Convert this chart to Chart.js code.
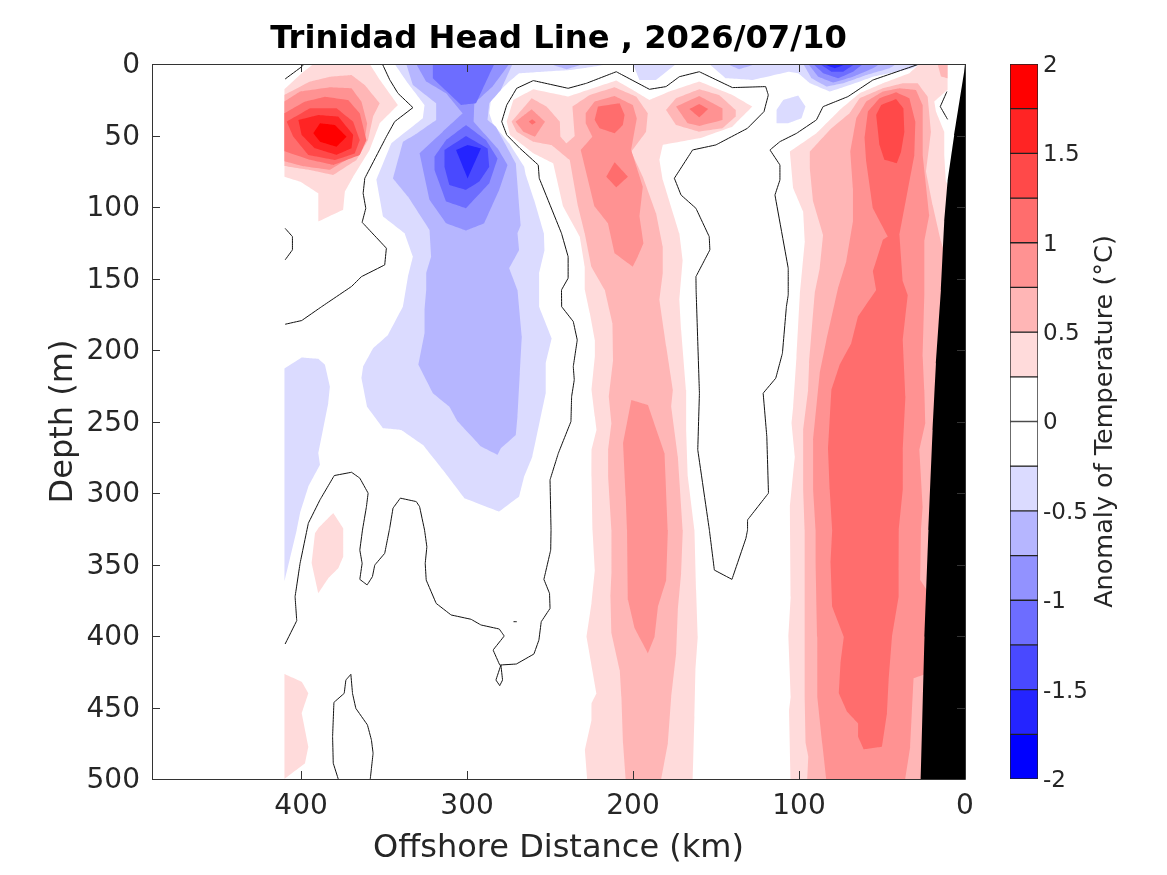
<!DOCTYPE html>
<html><head><meta charset="utf-8">
<script src="https://cdn.jsdelivr.net/npm/chart.js@4"></script>
<style>html,body{margin:0;padding:0;background:#fff;overflow:hidden}canvas{position:absolute;left:0;top:0}</style>
</head><body>
<canvas id="main" width="1167" height="875"></canvas>
<canvas id="bar" width="1167" height="875"></canvas>
<script>
// ---- data: [offshore km, depth m] outlines of the filled contour bands ----
const titleText = "Trinidad Head Line , 2026/07/10";
const levelColors = {"-1.5":"#2424FF","-1.25":"#4949FF","-1":"#6D6DFF","-0.75":"#9292FF","-0.5":"#B6B6FF","-0.25":"#DBDBFF",
  "0.25":"#FFDBDB","0.5":"#FFB6B6","0.75":"#FF9292","1":"#FF6D6D","1.25":"#FF4949","1.5":"#FF2424","1.75":"#FF0000"};

const cold25 = [
 [[343.6,0],[335.6,13.5],[325.6,28.7],[326.6,38],[345.6,55.5],[354.6,81],[350.6,106.7],[337.6,118.4],[332.6,134.7],[335.6,148.7],[338.6,169.6],[347.6,189.5],[356.6,198.8],[362.6,211.6],[363.6,219.7],[360.2,239.6],[350.6,254.7],[339.6,255.9],[326.6,266.3],[314.6,283.8],[301.6,303.6],[280.6,313],[268.6,302.5],[265.6,288.5],[260.6,274.5],[252.6,230.2],[252.6,209.3],[249,191.8],[256.6,169.7],[256.6,146.3],[253.3,130],[253.7,118.4],[259.6,95],[264.6,77.6],[265.6,71.8],[274.6,55.5],[284.6,41.5],[286.6,34.5],[285.6,25.2],[274.6,12.3],[268.6,6.5],[254.7,5.4],[237.7,4.2],[230,3],[214,0]],
 [[200,0],[196.1,11.2],[186.1,11.2],[174.1,0]],
 [[154.1,0],[144.1,10],[128.1,11.2],[106.1,5.4],[100.4,6.5],[93.4,13.5],[81.4,19.3],[69.4,14.7],[55.4,8.9],[31.4,3],[27.4,0]],
 [[113.5,32.1],[109.5,25.2],[100.5,22.1],[96.1,29.8],[98.5,38],[106.5,41.5],[113.5,41.5]],
 [[410,213],[399.6,205.3],[389.6,206.2],[385.6,210.4],[382.6,225.6],[383.6,237.2],[389.6,272.2],[388.6,280.3],[395.6,295.5],[400.6,314],[402.6,325.9],[410,362]]
];
const cold50 = [
 [[336.6,0],[332.6,14.7],[318.6,27.5],[318.6,39.1],[331.6,49.6],[338.6,54.3],[344.6,80],[335.6,92.7],[322.6,116],[321.6,134.7],[324.6,146.3],[324.6,158],[325.6,172],[325.6,188.3],[329.3,210.4],[320.6,230.2],[310.6,239.6],[305.6,250],[291.6,267.5],[281.6,273.3],[279.6,268.7],[270.6,259.4],[269.6,246.5],[268.2,216.3],[267,190.6],[269.6,158],[274.6,142.8],[268.6,130],[269.6,118.4],[267.6,112.5],[270.6,69.4],[282.6,43.8],[287.6,39.1],[286.6,27.5],[279.6,18.2],[272.6,0]],
 [[250,0],[240,3.7],[230,0]],
 [[143.1,0],[136.1,3.7],[126.1,0]],
 [[97.4,0],[92.4,10],[83.4,15.8],[73.4,13.5],[59.4,7.7],[45.4,3],[41.4,0]]
];
const cold75 = [
 [[330.6,0],[324.6,12.3],[312.6,20.5],[302.6,34.5],[314.6,47.3],[328.6,62.4],[322.6,95],[312.6,111.4],[300.6,116.5],[289.6,111.4],[280.6,88],[275.6,70.6],[281.6,59],[296,40.3],[295.6,27.5],[284.6,15.8],[274.6,0]],
 [[94.4,0],[88.4,8.9],[79.4,13],[67.4,8.9],[55.4,3],[51.4,0]]
];
const cold100 = [
 [[320.6,0],[320.6,10],[303.6,28.7],[294.6,27.5],[283.6,0]],
 [[319.6,64.8],[312.6,53.1],[300.6,42.6],[288.6,53.1],[281.6,66],[286.6,83.4],[300.6,100.9],[312.6,96.2],[319.6,74.1]],
 [[91.4,0],[85.4,6.5],[76.4,10],[67.4,5.4],[61.4,0]]
];
const cold125 = [
 [[313.6,60.1],[300.6,50.3],[287.6,59],[286.6,71.8],[292.6,82.2],[300.6,88],[310.6,84.6],[313.6,71.8]],
 [[87.4,0],[80.4,5.4],[73.4,5.4],[66.4,0]]
];
const cold150 = [
 [[306.6,60.1],[299.6,56.6],[291.6,59],[299.6,80]],
 [[85.4,0],[78.4,3],[71.4,0]]
];
const warm25 = [
 [[410,17.7],[399.6,6.5],[392.6,0],[358.6,0],[352.6,11],[341.6,28.7],[352.6,41.5],[358.6,60],[368.6,78.8],[373.6,89.2],[374.6,102],[389.6,110.2],[389.6,90.4],[400.6,82.2],[410,78.8]],
 [[380.6,314],[374.6,324.6],[374.6,332.9],[374.6,344.5],[377.6,352.7],[383.6,359.7],[389.6,370.2],[393.6,349.2],[391.6,328.2],[389.6,324.6]],
 [[410,426.6],[399.6,432],[395.6,440],[399.6,454],[395.6,477.4],[397.6,489],[410,500]],
 [[276.1,40.3],[272.1,25.2],[260.1,17.7],[239.1,22.8],[224.1,17],[210.1,11.6],[200.1,18.2],[190.1,25.2],[178.1,19.3],[160.1,12.3],[140.1,21.7],[128.1,29.8],[140.1,43.8],[160.1,52],[182.1,56.6],[184.1,67.1],[182.1,81],[172.1,118.4],[170.1,137],[172.1,165],[171,186],[168,228],[168,255.9],[167,288.5],[163,325.8],[162,367.8],[161,400.5],[162.4,423.8],[163,456.4],[164,500],[227.6,500],[229,479.7],[225,458.7],[225,447],[222,440],[228,400.5],[225,377],[223,353.9],[224.4,325.9],[225,288.5],[225,269.8],[222,255.9],[223,246.5],[225,227.9],[223,204.6],[223,193],[226,174.3],[229,158],[229.1,141.7],[232.1,120.7],[242.1,99.7],[248.1,69.4],[260.1,62.4],[274.1,49.6]],
 [[10.5,0],[27.5,0],[33.5,6.5],[49.5,13.5],[63.5,20.5],[75.5,32.2],[89.5,48.5],[105.5,61.3],[103.5,86.9],[97.5,103.2],[96.5,124],[99.5,161],[101.5,204.6],[103.5,239.6],[104.5,251.2],[102.5,274.5],[105.5,309.5],[105,372.5],[106.4,400.5],[105,442.4],[106,451.7],[105,500],[15,500],[8,90],[11.5,82],[12.5,63.6],[12.5,47.3],[17.5,33.3],[18.5,26.3],[10.5,18]]
];
const warm50 = [
 [[410,21.7],[394.6,12.3],[382.6,8.9],[369.6,7.7],[361.6,14.7],[352.6,27.5],[356.6,36.8],[359.6,53.1],[366.6,67.1],[380.6,77.6],[394.6,74.1],[410,71.3]],
 [[273.1,40.3],[261.1,24],[252.1,29.8],[244.1,40.3],[243.7,50.8],[240.1,55.5],[235.1,50.3],[236.5,29.8],[226.1,21.7],[211.1,16.3],[198.1,22.8],[191.1,34.5],[192.1,47.3],[201.1,61.3],[194.1,78.8],[186.1,104.4],[182.1,127.7],[182.1,146.3],[184.1,165],[180,197.6],[176,227.9],[177,239.6],[173,274.5],[170,325.8],[171,356],[173,381.8],[174,412],[177,442.4],[179,475],[183,500],[204.4,500],[206,475],[207,442.4],[208,423.8],[213,398],[213.6,372.5],[213,356],[213,325.9],[215,288.5],[215,269.8],[213,251],[214.6,232.6],[212,207],[212.4,181.3],[217,158],[225.1,141.7],[229.1,118.4],[233.1,99.7],[238.1,67.1],[249.1,56.6],[260.1,54.3],[270.1,47.3]],
 [[180.1,32.2],[174.1,24],[160.1,17.7],[148.1,21.7],[138.1,32.2],[138.1,36.8],[146.1,45],[160.1,47.3],[174.1,42.6]],
 [[16.5,0],[14.5,8.8],[10.5,10],[10.5,0]],
 [[93.5,61.3],[81.5,46.1],[69.5,34.5],[63.5,24],[49.5,17],[37.5,13.5],[28.5,13.5],[22.5,22.8],[20.5,47.3],[23.5,75.3],[19.5,98.6],[14.5,124],[5,160],[15,500],[95,500],[94.4,484.3],[96,475],[96.6,442.4],[96.6,372.5],[96.6,325.9],[97.5,297.8],[97.5,255.9],[94.5,228],[93.9,209.3],[90.5,160],[87.5,142.8],[85.5,119.5],[91.5,96.2],[93.5,72.9]]
];
const warm75 = [
 [[410,26.3],[400.6,19.3],[382.6,16.3],[369.6,17],[363.6,26.3],[360.2,41.5],[361.6,53.1],[369.6,64.8],[382.6,74],[398.6,71.5],[410,68]],
 [[270.7,40.3],[261.1,31.7],[253.1,40.3],[259.1,50.8],[266.1,47.3]],
 [[228.5,34.5],[223.1,26.3],[211.1,22.4],[200.1,28.7],[197.7,38],[201.1,60.1],[194.1,85.7],[196.1,106.7],[193.7,125.4],[197.1,134.7],[200.1,141.7],[211.1,132.3],[215.1,111.4],[223.1,99.7],[231.5,60.1],[224.5,50.8],[228.5,41.5]],
 [[201,234.9],[191,238.4],[181,272.2],[179,325.8],[180,360.9],[185,379.5],[187,400.5],[191,412.1],[199,394.6],[203,374.8],[203.6,325.9],[204.4,302.5],[206,265.2]],
 [[174.1,29.8],[160.1,22.4],[146.1,31],[146.1,39.1],[160.1,43.3],[167.1,41.5]],
 [[69.1,61.3],[65.5,38],[59.5,26.3],[49.5,19.3],[39.5,17],[29.5,18.2],[25.5,28.7],[25.5,63.6],[21.5,105.5],[24.5,124],[24.5,161.5],[25.5,204.6],[24.5,228],[23.9,251],[27.5,269.8],[25.5,309.5],[26.5,325.8],[27,360.9],[23,368],[20,380],[20,425],[31,429.6],[33,477.4],[36,500],[83.6,500],[86,475],[89,442.4],[89,400.5],[90,349],[90,325.9],[91.5,297.8],[91.5,262.9],[87.5,216],[83.5,193],[76.5,156.8],[71.5,138],[67.5,110],[67.5,87]]
];
const warm100 = [
 [[410,34.5],[397.6,26.3],[385.6,22.9],[371.6,25.2],[364.6,34.5],[360.6,53.1],[364.6,63.6],[380.6,70.6],[394.6,67],[410,61]],
 [[262.7,40.3],[260.7,38.7],[258.5,40.8],[260.7,42.4]],
 [[223.1,39.1],[221.1,29.8],[208.1,27.5],[205.1,35.6],[206.1,42.6],[211.1,48.5],[220.1,45]],
 [[216.1,78.8],[211.1,68.7],[203.1,78.8],[210.1,86.2]],
 [[166.1,31.5],[160.1,28],[154.7,31.5],[160.1,37.3]],
 [[60.5,52],[58.5,33.3],[51.5,24],[41.5,19.8],[33.5,24],[29.9,40.3],[30.5,63.6],[39.5,119.5],[37.5,152],[34.5,161.5],[37.5,193],[35.9,232.6],[37.5,269.8],[37.5,297.8],[39.9,325.8],[40,353.9],[40,372.5],[44,400.5],[46,430.8],[47,454],[50,477.4],[61,479.2],[64.4,470.4],[64.4,461],[71,452.9],[76,440],[75,419],[73,400.5],[80,379.5],[81,349],[80,325.9],[81.5,297.8],[82.5,269.8],[80.5,228],[75.5,210.4],[68.5,195.3],[64.5,176.6],[53.5,158],[55.5,145],[49.5,123],[46.5,120.7],[55.5,100.9],[59.5,68.3]]
];
const warm125 = [
 [[408.6,40.3],[394.6,31],[378.6,31],[368.6,40.3],[364.6,53.1],[367.6,62.5],[379.6,67.1],[395.6,63.6],[404.6,50.8]],
 [[53.5,35.6],[50.5,28.7],[41.5,24.5],[37.1,31],[36.5,47.3],[38.5,61.3],[41.1,69.4],[48.5,67],[51.5,56.6]]
];
const warm150 = [
 [[401.6,39.2],[389.6,35.7],[377.6,36.8],[368.6,49.6],[369.6,59],[378.6,63.6],[391.6,59],[399.6,49.6]]
];
const warm175 = [
 [[392.6,48.5],[388.6,41.5],[379.6,42.7],[372.6,50.8],[378.6,57.8],[388.6,54.3]]
];
const shelf = [[0,0],[0.5,5.35],[6.5,49.6],[10.5,82],[12.5,110],[14.5,158],[17.5,209.3],[19.5,256],[22,325.9],[24.4,400.5],[26.6,500],[0,500]];

const zeroLines = [
 [[409.6,10.5],[399.6,1.9],[398.2,0]],
 [[351,0],[346.6,11],[341.6,20.5],[332.6,30.5],[343.6,40.3],[348.6,50.8],[361.6,79.9],[362.6,90.4],[361,100.9],[363.2,110.7],[348.6,128.8],[349.6,140.5],[363.6,148.7],[369.6,155.6],[387.6,169.7],[399.6,179.4],[409.6,182]],
 [[409.6,114.9],[405.2,120.7],[405.2,130],[409.6,137]],
 [[27.5,0],[55.5,11.2],[70.5,22.8],[85.5,29.8],[89.5,39.1],[101.5,48.5],[111.5,54.3],[117.5,60.1],[111.5,70.6],[111.5,81.1],[114.5,91.6],[106.5,142.8],[106.5,161.5],[107.6,169.7],[110,202.3],[114,219.7],[121.6,230.2],[119.4,260.5],[118.4,300.1],[131,318.8],[131,325.8],[132,331.7],[140.4,360.4],[151,353.9],[154,325.9],[161,269.8],[160,230.2],[162,158],[162.1,148.7],[153.7,130],[154.1,120.7],[162.1,100.9],[171.1,91.6],[175.1,79.9],[164.1,60.1],[150.1,56.6],[131.1,45],[121.1,33.3],[118.5,21.7],[120.1,15.8],[140.1,16.5],[160.1,5.4],[172.1,8.9],[180.1,15.8],[190.1,17.7],[210.1,5.4],[228.1,13.5],[239.1,17],[260.1,11.6],[270.1,17],[276.1,28.7],[279.1,40.3],[276.1,49.6],[268.1,59],[257.1,70.6],[256.5,79.9],[243.1,118.4],[239.1,134.7],[239.1,149.8],[243.1,158],[243,169.7],[236,180.1],[233.6,193],[236,211.6],[235.4,220.9],[237,232.6],[237.4,250],[245,272.2],[250,290.8],[249.4,325.8],[249.6,339.9],[253.7,360.4],[250.3,370.2],[250,380.7],[255.3,390],[256.7,402.8],[259.7,412.6],[270.3,419.6],[280.3,420.3],[284.3,409.8],[277.6,400],[280.6,395.1],[291.6,392.3],[297.6,388.3],[309.6,385.3],[318.6,377.2],[324.6,360.9],[325.2,349.2],[324.2,337.6],[325.6,325.9],[328.6,309.5],[330.6,306],[340.2,303.6],[344.6,310.6],[346.6,324.6],[349.6,342.2],[355.6,350.4],[357,358.5],[360.2,364.3],[364.6,360.4],[363.2,349.2],[364.6,339.9],[363,325.9],[360.6,309.5],[359.6,300.1],[364.6,289.6],[369.6,285.5],[380,287.8],[388.6,304.8],[395.6,321.1],[400.6,349.2],[403.6,372.5],[402.6,389.3],[409.6,405.6]],
 [[279.6,420.3],[282.6,430.8],[280.3,434.7],[278.6,430.8],[279.6,420.3]],
 [[272,390],[270,390]],
 [[377.6,500],[380.6,489],[381,470.4],[380.2,446.4],[374,440.1],[373,430.8],[370,426.8],[369,440.1],[367,450.6],[360,462.2],[357.6,472.7],[356.6,482],[358.3,500]],
 [[10.9,19.3],[14.9,29.8],[10.5,38.7]]
];

const xTickStep = 100;
const yTickStep = 50;
const barLevels = [2,1.75,1.5,1.25,1,0.75,0.5,0.25,0,-0.25,-0.5,-0.75,-1,-1.25,-1.5,-1.75,-2];
const barColors = ["#FF0000","#FF2424","#FF4949","#FF6D6D","#FF9292","#FFB6B6","#FFDBDB","#FFFFFF","#FFFFFF","#DBDBFF","#B6B6FF","#9292FF","#6D6DFF","#4949FF","#2424FF","#0000FF"];
const barTitle = "Anomaly of Temperature (°C)";

// ---- chart ----
const FONT = "'DejaVu Sans'";
const INK = "#262626";
const toPts = a => a.map(p => ({x:p[0], y:p[1]}));
// the tiny tension keeps Chart.js off its x-sorted fast path, which would distort closed outlines
const areaSet = (poly, color) => ({data:toPts(poly.concat([poly[0]])), showLine:true, pointRadius:0, borderWidth:0, borderColor:color, backgroundColor:color, fill:'shape', tension:0.0001});
const lineSet = line => ({data:toPts(line), showLine:true, pointRadius:0, borderWidth:1, borderColor:"#111", fill:false, tension:0.0001});
const bands = [
 [cold25,"-0.25"],[cold50,"-0.5"],[cold75,"-0.75"],[cold100,"-1"],[cold125,"-1.25"],[cold150,"-1.5"],
 [warm25,"0.25"],[warm50,"0.5"],[warm75,"0.75"],[warm100,"1"],[warm125,"1.25"],[warm150,"1.5"],[warm175,"1.75"]
];
const datasets = [];
bands.forEach(([polys,k]) => polys.forEach(p => datasets.push(areaSet(p, levelColors[k]))));
zeroLines.forEach(l => datasets.push(lineSet(l)));
datasets.push(areaSet(shelf, "#000000"));
datasets.reverse(); // Chart.js paints the last dataset first

const frame = {
  id:'frame',
  afterDraw(c){
    const {ctx, chartArea:a, scales} = c;
    ctx.save();
    ctx.strokeStyle = "#333"; ctx.lineWidth = 1;
    ctx.beginPath();
    const L = 8;
    scales.x.ticks.forEach(t => { const p = Math.round(scales.x.getPixelForValue(t.value))+0.5;
      ctx.moveTo(p,a.bottom); ctx.lineTo(p,a.bottom-L); ctx.moveTo(p,a.top); ctx.lineTo(p,a.top+L); });
    scales.y.ticks.forEach(t => { const p = Math.round(scales.y.getPixelForValue(t.value))+0.5;
      ctx.moveTo(a.left,p); ctx.lineTo(a.left+L,p); ctx.moveTo(a.right,p); ctx.lineTo(a.right-L,p); });
    ctx.rect(a.left+0.5,a.top+0.5,a.right-a.left,a.bottom-a.top);
    ctx.stroke();
    ctx.restore();
  }
};
new Chart(document.getElementById('main'), {
  type:'scatter',
  data:{datasets},
  plugins:[frame],
  options:{
    responsive:false, animation:false, events:[],
    layout:{padding:{top:20,left:44,right:202,bottom:7}},
    plugins:{legend:{display:false},tooltip:{enabled:false},
      title:{display:true,text:titleText,fullSize:false,color:"#000",font:{family:FONT,size:32.2,weight:'bold',lineHeight:1.2},padding:{top:0,bottom:5.36}}},
    scales:{
      x:{type:'linear',reverse:true,min:0,max:489.8,afterFit:s=>{s.height=89},
        grid:{display:false,drawTicks:false},border:{display:false},
        ticks:{stepSize:xTickStep,includeBounds:false,maxRotation:0,autoSkip:false,color:INK,padding:11,font:{family:FONT,size:28},callback:v=>String(v)},
        title:{display:true,text:"Offshore Distance (km)",color:INK,padding:0,font:{family:FONT,size:32}}},
      y:{type:'linear',reverse:true,min:0,max:500,afterFit:s=>{s.width=108},
        grid:{display:false,drawTicks:false},border:{display:false},
        ticks:{stepSize:yTickStep,autoSkip:false,color:INK,padding:12,labelOffset:2,font:{family:FONT,size:28},callback:v=>String(v)},
        title:{display:true,text:"Depth (m)",color:INK,padding:0,font:{family:FONT,size:32}}}
    }
  }
});

const barLabel = {
  id:'barLabel',
  afterDraw(c){
    const ctx = c.ctx;
    ctx.save();
    ctx.translate(1105, (c.chartArea.top+c.chartArea.bottom)/2);
    ctx.rotate(-Math.PI/2);
    ctx.fillStyle = INK;
    ctx.font = "25.5px "+FONT;
    ctx.textAlign = "center";
    ctx.textBaseline = "middle";
    ctx.fillText(barTitle, 0, 0);
    ctx.restore();
  }
};
new Chart(document.getElementById('bar'), {
  type:'bar',
  data:{labels:['band'],datasets:barColors.map((col,i)=>({data:[[barLevels[i+1],barLevels[i]]],backgroundColor:col,borderColor:"#222",borderWidth:1,borderSkipped:false,barPercentage:1,categoryPercentage:1,grouped:false}))},
  plugins:[barLabel],
  options:{
    responsive:false, animation:false, events:[],
    layout:{padding:{top:64,left:1010,right:47,bottom:96}},
    plugins:{legend:{display:false},tooltip:{enabled:false}},
    scales:{
      x:{display:false},
      y:{position:'right',min:-2,max:2,afterFit:s=>{s.width=82},
        grid:{display:false,drawTicks:false},border:{display:false},
        ticks:{stepSize:0.5,autoSkip:false,color:INK,padding:5,labelOffset:2,font:{family:FONT,size:23},callback:v=>String(v)}}
    }
  }
});
</script>
</body></html>
